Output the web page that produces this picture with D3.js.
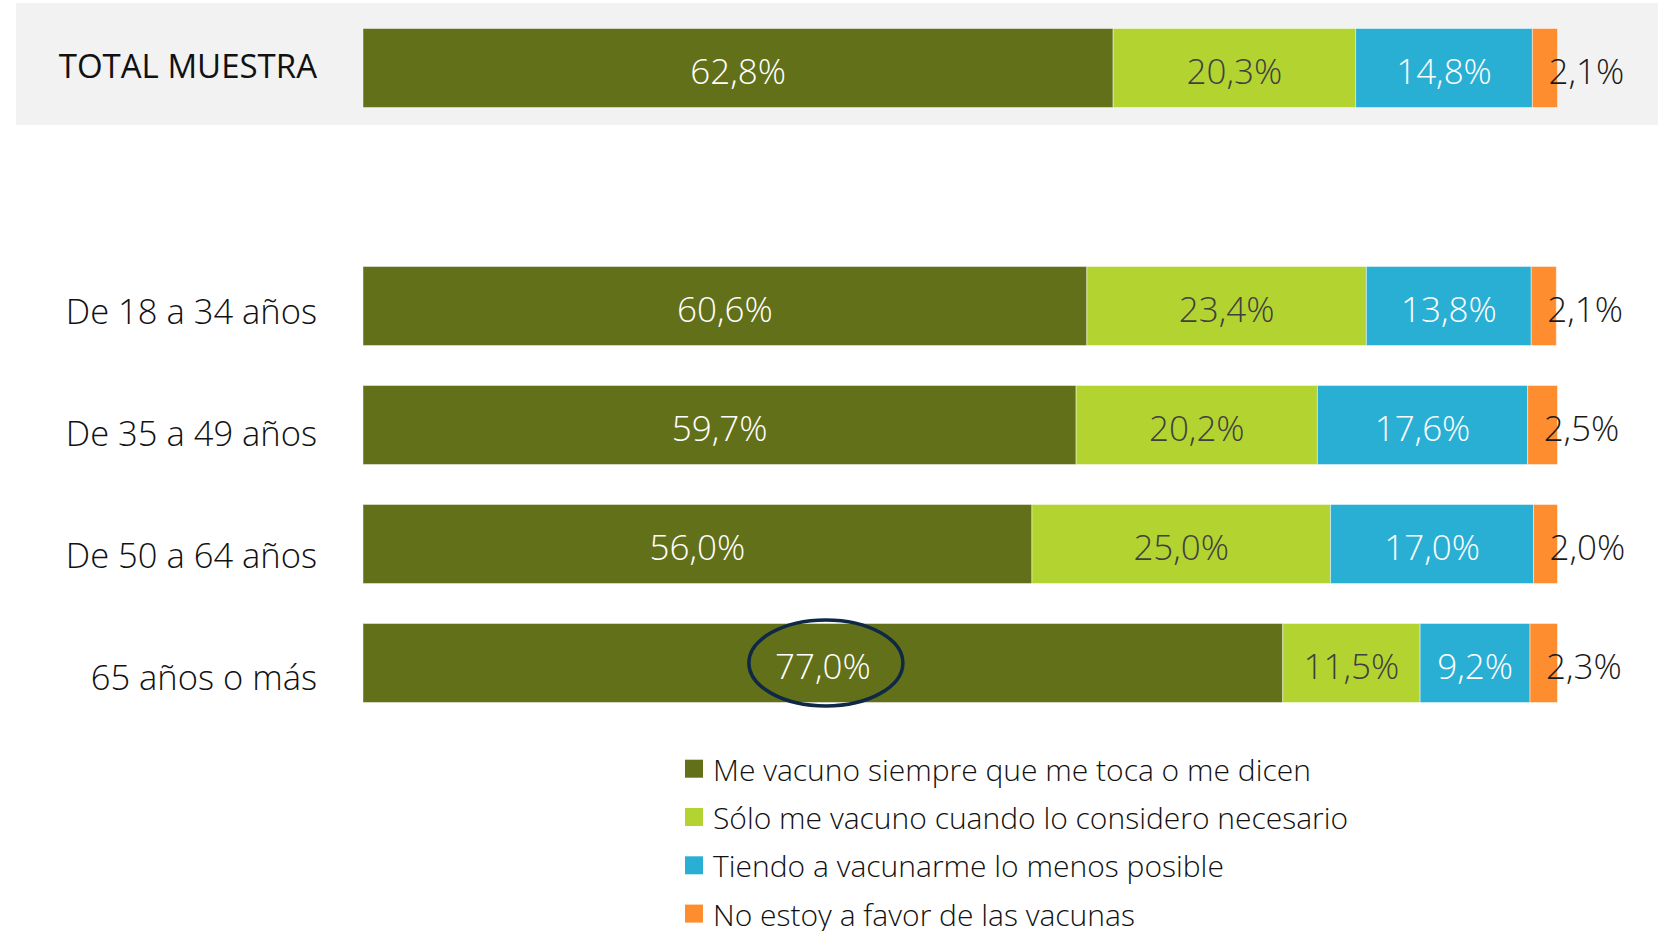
<!DOCTYPE html>
<html>
<head>
<meta charset="utf-8">
<script src="https://cdn.jsdelivr.net/npm/d3@7"></script>
<style>
  html, body { margin: 0; padding: 0; background: #fff; }
  svg { display: block; font-family: "Open Sans", "Noto Sans", sans-serif; }
</style>
</head>
<body>
<div id="vis"></div>
<script>
const categories = ["TOTAL MUESTRA", "De 18 a 34 años", "De 35 a 49 años", "De 50 a 64 años", "65 años o más"];
const seriesNames = [
    "Me vacuno siempre que me toca o me dicen",
    "Sólo me vacuno cuando lo considero necesario",
    "Tiendo a vacunarme lo menos posible",
    "No estoy a favor de las vacunas"
];
const siempre = [62.8, 60.6, 59.7, 56.0, 77.0];
const soloNecesario = [20.3, 23.4, 20.2, 25.0, 11.5];
const menosPosible = [14.8, 13.8, 17.6, 17.0, 9.2];
const noFavor = [2.1, 2.1, 2.5, 2.0, 2.3];

const colors = ["#627019", "#b3d430", "#2aafd4", "#fe8d2f"];
const labelColors = ["#ffffff", "#404040", "#ffffff", "#1a1a1a"];

function vis() {
    const width = 1658;
    const height = 931;

    const svg = d3.select("#vis")
        .append("svg")
        .attr("width", width)
        .attr("height", height)
        .attr("viewBox", `0 0 ${width} ${height}`);

    const rows = categories.map((c, i) => ({
        cat: c,
        idx: i,
        slot: i === 0 ? 0 : i + 1,
        v0: siempre[i], v1: soloNecesario[i], v2: menosPosible[i], v3: noFavor[i]
    }));

    const keys = ["v0", "v1", "v2", "v3"];
    const stacked = d3.stack().keys(keys)(rows);

    const x = d3.scaleLinear().domain([0, 100]).range([363, 1557.5]);
    const y = d3.scaleBand()
        .domain(d3.range(6))
        .range([28.5, 702.5])
        .paddingInner(0.336)
        .paddingOuter(0);

    const fmt = d3.formatLocale({decimal: ",", thousands: ".", grouping: [3], currency: ["", "€"]}).format(".1f");

    // gray band behind the total row
    svg.append("rect")
        .attr("x", 16)
        .attr("y", y(0) - 25.5)
        .attr("width", width - 16)
        .attr("height", y.bandwidth() + 43)
        .style("fill", "#f2f2f2");

    const gSeries = svg.selectAll(".series")
        .data(stacked)
        .join("g")
            .attr("class", "series")
            .style("fill", (d, i) => colors[i]);

    gSeries.selectAll("rect")
        .data(d => d)
        .join("rect")
            .attr("x", d => x(d[0]))
            .attr("y", d => y(d.data.slot))
            .attr("width", d => x(d[1]) - x(d[0]))
            .attr("height", y.bandwidth())
            .style("stroke", "rgba(255,255,255,0.45)")
            .style("stroke-width", 1);

    gSeries.selectAll(".val")
        .data((d, i) => d.map(p => ({p, i})))
        .join("text")
            .attr("class", "val")
            .attr("text-anchor", d => d.i === 3 ? "start" : "middle")
            .attr("x", d => d.i === 3 ? x(d.p[0]) + 16 : (x(d.p[0]) + x(d.p[1])) / 2)
            .attr("y", d => y(d.p.data.slot) + y.bandwidth() / 2 + 16)
            .style("font-size", "35px")
            .style("font-weight", 300)
            .style("fill", d => labelColors[d.i])
            .text(d => fmt(d.p[1] - d.p[0]) + "%");

    // category labels (age labels sit a little lower row by row, as in the source)
    svg.selectAll(".cat")
        .data(rows)
        .join("text")
            .attr("class", "cat")
            .attr("text-anchor", "end")
            .attr("x", 317)
            .attr("y", d => y(d.slot) + y.bandwidth() / 2 + (d.slot === 0 ? 10 : 18 + (d.idx - 1) * 2.9))
            .style("font-size", d => d.slot === 0 ? "33px" : "34.5px")
            .style("font-weight", d => d.slot === 0 ? 400 : 300)
            .style("fill", "#111")
            .text(d => d.cat);

    // highlight ellipse on the 65+ "siempre" value
    const hl = stacked[0][4];
    svg.append("ellipse")
        .attr("cx", (x(hl[0]) + x(hl[1])) / 2 + 3)
        .attr("cy", y(hl.data.slot) + y.bandwidth() / 2)
        .attr("rx", 77)
        .attr("ry", 43)
        .style("fill", "none")
        .style("stroke", "#0f2847")
        .style("stroke-width", 3.5);

    // legend
    const legend = svg.selectAll(".legend")
        .data(seriesNames)
        .join("g")
            .attr("class", "legend")
            .attr("transform", (d, i) => `translate(685, ${768.7 + i * 48.3})`);

    legend.append("rect")
        .attr("x", 0)
        .attr("y", -9)
        .attr("width", 18)
        .attr("height", 18)
        .style("fill", (d, i) => colors[i]);

    legend.append("text")
        .attr("x", 28)
        .attr("y", 12)
        .style("font-size", "30px")
        .style("font-weight", 300)
        .style("fill", "#111")
        .text(d => d);
}

vis();
</script>
</body>
</html>
